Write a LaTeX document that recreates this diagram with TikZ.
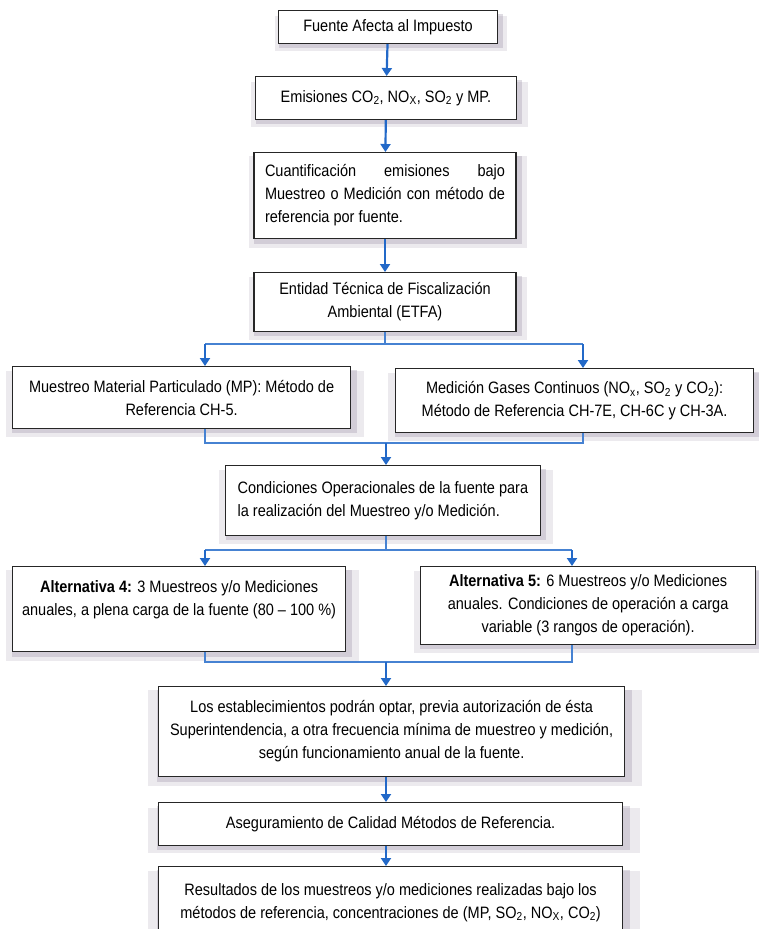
\documentclass[tikz,border=0pt]{standalone}
\usepackage{fontspec}
\setmainfont{Liberation Sans}[FakeStretch=0.88]
\usetikzlibrary{positioning, shapes, arrows.meta, shadows}

\definecolor{flowblue}{RGB}{35,105,200}
\definecolor{linkblue}{RGB}{70,130,210}
\definecolor{haze}{RGB}{150,140,165}

\tikzset{
  box/.style={rectangle, draw=black!85, line width=1.2pt, fill=white, inner xsep=5pt, inner ysep=4pt,
    general shadow={shadow scale=1.06, shadow xshift=3pt, shadow yshift=-6pt, fill=haze, opacity=0.18},
    general shadow={shadow scale=1.02, shadow xshift=3pt, shadow yshift=-4pt, fill=haze, opacity=0.30}},
  arrow/.style={draw=flowblue, line width=2.2pt, -{Triangle[width=10pt,length=8pt]}},
  flow/.style={draw=linkblue, line width=1.6pt}
}

\begin{document}
\begin{tikzpicture}[x=1pt, y=-1pt, font=\fontsize{16.5}{23}\selectfont]
\fill[white] (0,0) rectangle (758,929);
\useasboundingbox (0,0) rectangle (758,929);

% central column
\node[box, anchor=north, minimum width=219, minimum height=33, align=center] (fuente) at (388,10) {Fuente Afecta al Impuesto};
\node[box, anchor=north, minimum width=261, minimum height=43, align=center] (emision) at (386,76)
  {Emisiones CO\textsubscript{2}, NO\textsubscript{X}, SO\textsubscript{2} y MP.};
\node[box, anchor=north, minimum width=262, minimum height=86, text width=240, align=justify] (cuanti) at (385,152)
  {Cuantificación emisiones bajo\linebreak Muestreo o Medición con método de\linebreak referencia por fuente.};
\node[box, anchor=north, minimum width=262, minimum height=59, align=center] (etfa) at (385,272)
  {Entidad Técnica de Fiscalización\\Ambiental (ETFA)};

\draw[arrow] (fuente) -- (emision);
\draw[arrow] (emision) -- (cuanti);
\draw[arrow] (cuanti) -- (etfa);

% first split
\node[box, anchor=north west, minimum width=338, minimum height=62, align=center] (muestreo) at (12,366)
  {Muestreo Material Particulado (MP): Método de\\Referencia CH-5.};
\node[box, anchor=north west, minimum width=358, minimum height=64, align=center] (medicion) at (395,368)
  {Medición Gases Continuos (NO\textsubscript{x}, SO\textsubscript{2} y CO\textsubscript{2}):\\Método de Referencia CH-7E, CH-6C y CH-3A.};

\coordinate (br1l) at (205,344);
\coordinate (br1c) at (385,344);
\coordinate (br1r) at (583,344);
\draw[flow] (etfa.south) -- (br1c);
\draw[flow] (br1l) -- (br1r);
\draw[arrow] (br1l) -- (br1l |- muestreo.north);
\draw[arrow] (br1r) -- (br1r |- medicion.north);

\node[box, anchor=north west, minimum width=300, minimum height=70, inner xsep=12pt, align=left] (condic) at (225,465)
  {Condiciones Operacionales de la fuente para\\la realización del Muestreo y/o Medición.};

\coordinate (mg1l) at (205,443);
\coordinate (mg1c) at (386,443);
\coordinate (mg1r) at (583,443);
\draw[flow] (muestreo.south -| mg1l) -- (mg1l) -- (mg1r) -- (medicion.south -| mg1r);
\draw[arrow] (mg1c) -- (mg1c |- condic.north);

% second split
\node[box, anchor=north west, minimum width=333, minimum height=85, align=center] (alt4) at (12,566)
  {\textbf{Alternativa 4:} 3 Muestreos y/o Mediciones\\anuales, a plena carga de la fuente (80 – 100 \%)\\\mbox{}};
\node[box, anchor=north west, minimum width=335, minimum height=78, align=center] (alt5) at (420,566)
  {\textbf{Alternativa 5:} 6 Muestreos y/o Mediciones\\anuales. Condiciones de operación a carga\\variable (3 rangos de operación).};

\coordinate (br2l) at (205,550);
\coordinate (br2c) at (386,550);
\coordinate (br2r) at (572,550);
\draw[flow] (condic.south -| br2c) -- (br2c);
\draw[flow] (br2l) -- (br2r);
\draw[arrow] (br2l) -- (br2l |- alt4.north);
\draw[arrow] (br2r) -- (br2r |- alt5.north);

\node[box, anchor=north west, minimum width=466, minimum height=90, align=center] (opcion) at (158,686)
  {Los establecimientos podrán optar, previa autorización de ésta\\Superintendencia, a otra frecuencia mínima de muestreo y medición,\\según funcionamiento anual de la fuente.};

\coordinate (mg2l) at (205,662);
\coordinate (mg2c) at (386,662);
\coordinate (mg2r) at (572,662);
\draw[flow] (alt4.south -| mg2l) -- (mg2l) -- (mg2r) -- (alt5.south -| mg2r);
\draw[arrow] (mg2c) -- (mg2c |- opcion.north);

% bottom
\node[box, anchor=north west, minimum width=464, minimum height=43, align=center] (asegura) at (158,802)
  {Aseguramiento de Calidad Métodos de Referencia.};
\node[box, anchor=north west, minimum width=464, minimum height=72, align=center] (result) at (158,866)
  {Resultados de los muestreos y/o mediciones realizadas bajo los\\métodos de referencia, concentraciones de (MP, SO\textsubscript{2}, NO\textsubscript{X}, CO\textsubscript{2})};

\draw[arrow] (opcion.south -| mg2c) -- (mg2c |- asegura.north);
\draw[arrow] (asegura.south -| mg2c) -- (mg2c |- result.north);
\end{tikzpicture}
\end{document}
